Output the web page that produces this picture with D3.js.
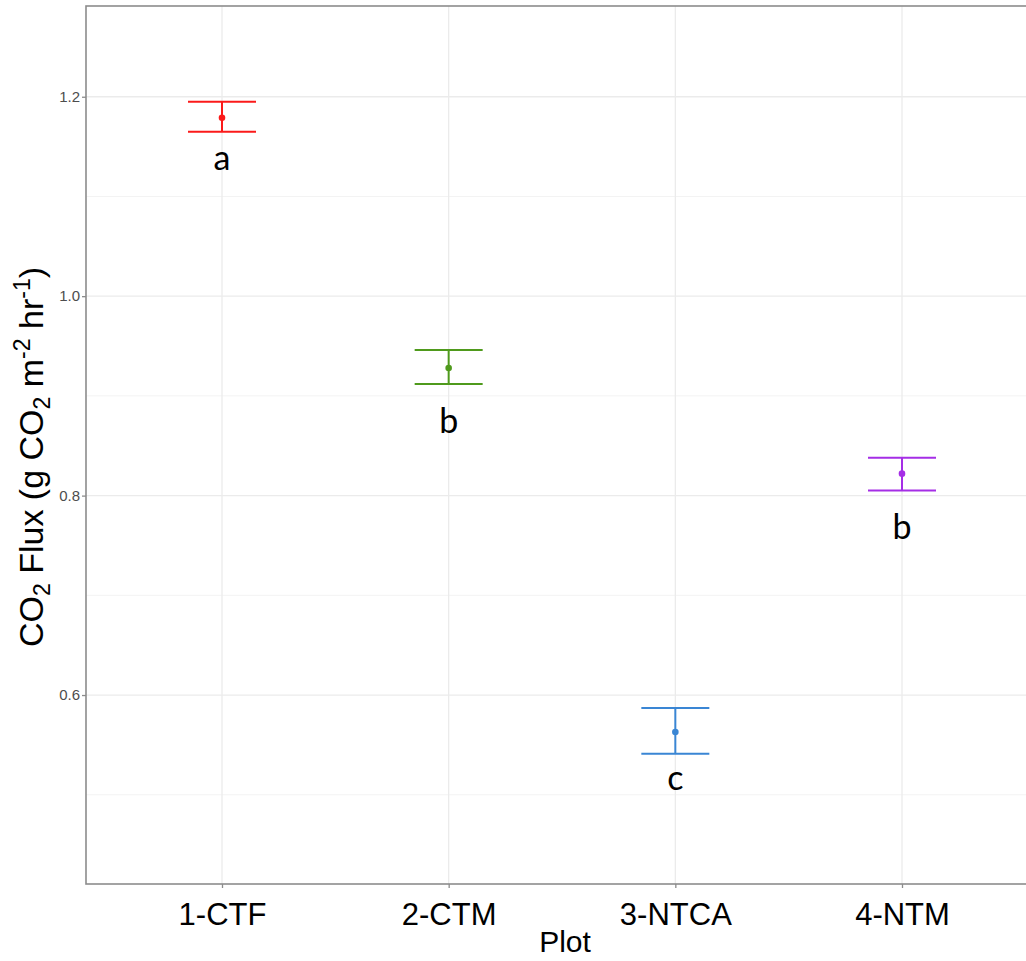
<!DOCTYPE html>
<html>
<head>
<meta charset="utf-8">
<script src="https://cdn.jsdelivr.net/npm/d3@7"></script>
<style>
  html, body { margin: 0; padding: 0; background: #fff; overflow: hidden; }
  svg { display: block; }
</style>
</head>
<body>
<svg id="chart" width="1026" height="961"></svg>
<script>
// ---- data ----
const categories = ["1-CTF", "2-CTM", "3-NTCA", "4-NTM"];
const means = [1.179, 0.928, 0.563, 0.822];
const upper = [1.195, 0.946, 0.587, 0.838];
const lower = [1.165, 0.912, 0.541, 0.805];
const letters = ["a", "b", "c", "b"];
const letterY = [1.127, 0.863, 0.505, 0.756];
const colors = ["#fb1a1a", "#4f9a1c", "#3a86d4", "#a52ee6"];
const majorTicks = [0.6, 0.8, 1.0, 1.2];
const minorTicks = [0.5, 0.7, 0.9, 1.1];

// ---- layout ----
const svg = d3.select("#chart");
const panel = { left: 86, top: 6, right: 1038, bottom: 884 };

const y = d3.scaleLinear().domain([0.4105, 1.291]).range([panel.bottom, panel.top]);
const x = d3.scalePoint().domain(categories).range([panel.left, panel.right]).padding(0.6);
const capHalf = x.step() * 0.15;

// grid
const g = svg.append("g");
g.selectAll("line.minor").data(minorTicks).join("line")
  .attr("x1", panel.left).attr("x2", panel.right)
  .attr("y1", d => y(d)).attr("y2", d => y(d))
  .attr("stroke", "#f3f3f3").attr("stroke-width", 1);
g.selectAll("line.major").data(majorTicks).join("line")
  .attr("x1", panel.left).attr("x2", panel.right)
  .attr("y1", d => y(d)).attr("y2", d => y(d))
  .attr("stroke", "#ebebeb").attr("stroke-width", 1.3);
g.selectAll("line.vmajor").data(categories).join("line")
  .attr("x1", d => x(d)).attr("x2", d => x(d))
  .attr("y1", panel.top).attr("y2", panel.bottom)
  .attr("stroke", "#ebebeb").attr("stroke-width", 1.3);

// data series
const rows = categories.map((c, i) => ({ c, m: means[i], hi: upper[i], lo: lower[i], col: colors[i], lab: letters[i], ly: letterY[i] }));
const s = svg.append("g").selectAll("g").data(rows).join("g");
s.append("line").attr("x1", d => x(d.c)).attr("x2", d => x(d.c))
  .attr("y1", d => y(d.hi)).attr("y2", d => y(d.lo))
  .attr("stroke", d => d.col).attr("stroke-width", 2);
s.append("line").attr("x1", d => x(d.c) - capHalf).attr("x2", d => x(d.c) + capHalf)
  .attr("y1", d => y(d.hi)).attr("y2", d => y(d.hi))
  .attr("stroke", d => d.col).attr("stroke-width", 2);
s.append("line").attr("x1", d => x(d.c) - capHalf).attr("x2", d => x(d.c) + capHalf)
  .attr("y1", d => y(d.lo)).attr("y2", d => y(d.lo))
  .attr("stroke", d => d.col).attr("stroke-width", 2);
s.append("circle").attr("cx", d => x(d.c)).attr("cy", d => y(d.m)).attr("r", 3.3)
  .attr("fill", d => d.col);
s.append("text").attr("x", d => x(d.c)).attr("y", d => y(d.ly))
  .attr("text-anchor", "middle")
  .attr("font-family", "Lato, 'Open Sans', sans-serif").attr("font-size", 34)
  .attr("fill", "#000").text(d => d.lab);

// panel border
svg.append("rect").attr("x", panel.left).attr("y", panel.top)
  .attr("width", panel.right - panel.left).attr("height", panel.bottom - panel.top)
  .attr("fill", "none").attr("stroke", "#8c8c8c").attr("stroke-width", 1.6);

// y axis
const yAxis = d3.axisLeft(y).tickValues(majorTicks).tickFormat(d3.format(".1f")).tickSize(4).tickPadding(2);
const ya = svg.append("g").attr("transform", `translate(${panel.left},0)`).call(yAxis);
ya.select(".domain").remove();
ya.selectAll(".tick line").attr("stroke", "#8c8c8c").attr("stroke-width", 1.3);
ya.selectAll(".tick text").attr("font-family", "'Liberation Sans', Arial, sans-serif")
  .attr("font-size", 15).attr("fill", "#4d4d4d");

// x axis
const xAxis = d3.axisBottom(x).tickSize(4).tickPadding(0);
const xa = svg.append("g").attr("transform", `translate(0,${panel.bottom})`).call(xAxis);
xa.select(".domain").remove();
xa.selectAll(".tick line").attr("stroke", "#8c8c8c").attr("stroke-width", 1.3);
xa.selectAll(".tick text").attr("font-family", "'Liberation Sans', Arial, sans-serif")
  .attr("font-size", 31).attr("fill", "#000").attr("dy", null).attr("y", 41);

// axis titles
svg.append("text").attr("x", 565).attr("y", 952).attr("text-anchor", "middle")
  .attr("font-family", "'Liberation Sans', Arial, sans-serif").attr("font-size", 30)
  .attr("fill", "#000").text("Plot");

const yt = svg.append("text")
  .attr("transform", `translate(43,457) rotate(-90)`)
  .attr("text-anchor", "middle")
  .attr("font-family", "'Liberation Sans', Arial, sans-serif").attr("font-size", 34)
  .attr("fill", "#000");
yt.append("tspan").text("CO");
yt.append("tspan").attr("font-size", 23).attr("dy", 7).text("2");
yt.append("tspan").attr("dy", -7).text(" Flux (g CO");
yt.append("tspan").attr("font-size", 23).attr("dy", 7).text("2");
yt.append("tspan").attr("dy", -7).text(" m");
yt.append("tspan").attr("font-size", 23).attr("dy", -13).text("-2");
yt.append("tspan").attr("dy", 13).text(" hr");
yt.append("tspan").attr("font-size", 23).attr("dy", -13).text("-1");
yt.append("tspan").attr("dy", 13).text(")");
</script>
</body>
</html>
